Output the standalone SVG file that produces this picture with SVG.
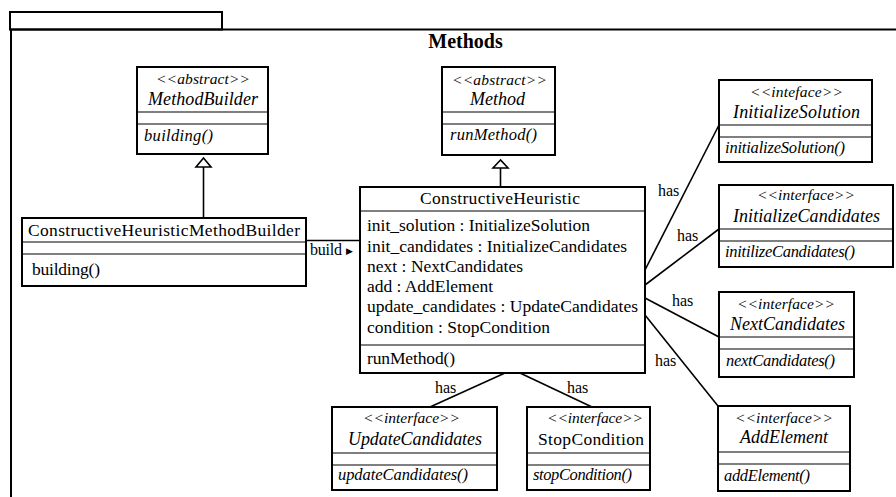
<svg xmlns="http://www.w3.org/2000/svg" width="896" height="497" viewBox="0 0 896 497">
  <style>
    .frame { fill: none; stroke: #000; stroke-width: 2; }
    .box { fill: #fff; stroke: #000; stroke-width: 2; }
    .div { stroke: #000; stroke-width: 1.2; }
    .ln { stroke: #000; stroke-width: 1.6; fill: none; }
    .tri { fill: #fff; stroke: #000; stroke-width: 1.6; }
    .t { font-size: 17.5px; }
    .st { font-size: 15.5px; font-style: italic; }
    .nm { font-size: 18px; font-style: italic; }
    .op { font-size: 16.5px; font-style: italic; }
    .lbl { font-size: 16px; }
    .title { font-size: 20px; font-weight: bold; }
    .sym { font-size: 9px; }
  </style>

  <!-- package frame -->
  <g id="package">
    <rect class="frame" x="10" y="12" width="212" height="17.5"/>
    <path class="frame" d="M11,497 V29.5 H896"/>
    <text class="title" font-family="Liberation Serif, Times New Roman, Noto Serif, DejaVu Serif, serif" x="465.5" y="48" text-anchor="middle">Methods</text>
  </g>

  <!-- all text below uses the serif stack -->
  <g font-family="Liberation Serif, Times New Roman, Noto Serif, DejaVu Serif, serif">

  <!-- connectors -->
  <g id="connectors">
    <!-- generalizations -->
    <line class="ln" x1="203.5" y1="167" x2="203.5" y2="218"/>
    <polygon class="tri" points="203.5,158 196,167 211,167"/>
    <line class="ln" x1="500.5" y1="168" x2="500.5" y2="187"/>
    <polygon class="tri" points="500.5,160 493,168 508,168"/>
    <!-- build association -->
    <line class="ln" x1="307" y1="240.5" x2="360" y2="240.5"/>
    <text class="lbl" x="310" y="255" textLength="32">build</text>
    <text class="sym" font-family="DejaVu Sans, sans-serif" x="346" y="254">▶</text>
    <!-- has associations -->
    <line class="ln" x1="645" y1="270" x2="719" y2="125"/>
    <text class="lbl" x="658" y="196">has</text>
    <line class="ln" x1="645" y1="285" x2="719" y2="229"/>
    <text class="lbl" x="677" y="241">has</text>
    <line class="ln" x1="645" y1="298" x2="719" y2="337"/>
    <text class="lbl" x="672" y="306">has</text>
    <line class="ln" x1="645" y1="315" x2="718" y2="406"/>
    <text class="lbl" x="655" y="366">has</text>
    <line class="ln" x1="505" y1="373" x2="430" y2="407"/>
    <text class="lbl" x="435" y="393">has</text>
    <line class="ln" x1="520" y1="373" x2="592" y2="407"/>
    <text class="lbl" x="567" y="393">has</text>
  </g>

  <g id="MethodBuilder">
    <rect class="box" x="137" y="67" width="131" height="87"/>
    <line class="div" x1="137" y1="112" x2="268" y2="112"/>
    <line class="div" x1="137" y1="124" x2="268" y2="124"/>
    <text class="st" x="156" y="84" textLength="94">&lt;&lt;abstract&gt;&gt;</text>
    <text class="nm" x="148" y="105" textLength="110">MethodBuilder</text>
    <text class="op" x="144" y="141" textLength="69">building()</text>
  </g>

  <g id="Method">
    <rect class="box" x="442" y="67" width="113" height="88"/>
    <line class="div" x1="442" y1="112" x2="555" y2="112"/>
    <line class="div" x1="442" y1="124" x2="555" y2="124"/>
    <text class="st" x="452" y="85" textLength="95">&lt;&lt;abstract&gt;&gt;</text>
    <text class="nm" x="470" y="105" textLength="55">Method</text>
    <text class="op" x="450" y="140" textLength="87">runMethod()</text>
  </g>

  <g id="ConstructiveHeuristicMethodBuilder">
    <rect class="box" x="22" y="218" width="284" height="68"/>
    <line class="div" x1="22" y1="242" x2="306" y2="242"/>
    <line class="div" x1="22" y1="254" x2="306" y2="254"/>
    <text class="t" x="28" y="236" textLength="272">ConstructiveHeuristicMethodBuilder</text>
    <text class="t" x="32" y="275" textLength="68">building()</text>
  </g>

  <g id="ConstructiveHeuristic">
    <rect class="box" x="360" y="187" width="285" height="186"/>
    <line class="div" x1="360" y1="211" x2="645" y2="211"/>
    <line class="div" x1="360" y1="345" x2="645" y2="345"/>
    <text class="t" x="420" y="204" textLength="160">ConstructiveHeuristic</text>
    <text class="t" x="367" y="231" textLength="223">init_solution : InitializeSolution</text>
    <text class="t" x="367" y="252" textLength="260">init_candidates : InitializeCandidates</text>
    <text class="t" x="367" y="272" textLength="156">next : NextCandidates</text>
    <text class="t" x="367" y="292" textLength="126">add : AddElement</text>
    <text class="t" x="367" y="312" textLength="271">update_candidates : UpdateCandidates</text>
    <text class="t" x="367" y="333" textLength="183">condition : StopCondition</text>
    <text class="t" x="367" y="364" textLength="88">runMethod()</text>
  </g>

  <g id="InitializeSolution">
    <rect class="box" x="719" y="80" width="153" height="82"/>
    <line class="div" x1="719" y1="125" x2="872" y2="125"/>
    <line class="div" x1="719" y1="137" x2="872" y2="137"/>
    <text class="st" x="750" y="97" textLength="93">&lt;&lt;inteface&gt;&gt;</text>
    <text class="nm" x="733" y="118" textLength="127">InitializeSolution</text>
    <text class="op" x="725" y="153" textLength="120">initializeSolution()</text>
  </g>

  <g id="InitializeCandidates">
    <rect class="box" x="719" y="185" width="174" height="82"/>
    <line class="div" x1="719" y1="229" x2="893" y2="229"/>
    <line class="div" x1="719" y1="241" x2="893" y2="241"/>
    <text class="st" x="757" y="200" textLength="98">&lt;&lt;interface&gt;&gt;</text>
    <text class="nm" x="733" y="222" textLength="147">InitializeCandidates</text>
    <text class="op" x="725" y="257" textLength="130">initilizeCandidates()</text>
  </g>

  <g id="NextCandidates">
    <rect class="box" x="719" y="292" width="135" height="85"/>
    <line class="div" x1="719" y1="337" x2="854" y2="337"/>
    <line class="div" x1="719" y1="349" x2="854" y2="349"/>
    <text class="st" x="737" y="309" textLength="98">&lt;&lt;interface&gt;&gt;</text>
    <text class="nm" x="730" y="330" textLength="115">NextCandidates</text>
    <text class="op" x="726" y="366" textLength="109">nextCandidates()</text>
  </g>

  <g id="AddElement">
    <rect class="box" x="718" y="406" width="132" height="85"/>
    <line class="div" x1="718" y1="452" x2="850" y2="452"/>
    <line class="div" x1="718" y1="464" x2="850" y2="464"/>
    <text class="st" x="735" y="423" textLength="98">&lt;&lt;interface&gt;&gt;</text>
    <text class="nm" x="740" y="443" textLength="88">AddElement</text>
    <text class="op" x="724" y="481" textLength="86">addElement()</text>
  </g>

  <g id="UpdateCandidates">
    <rect class="box" x="332" y="407" width="165" height="83"/>
    <line class="div" x1="332" y1="453" x2="497" y2="453"/>
    <line class="div" x1="332" y1="465" x2="497" y2="465"/>
    <text class="st" x="363" y="423" textLength="97">&lt;&lt;interface&gt;&gt;</text>
    <text class="nm" x="348" y="445" textLength="134">UpdateCandidates</text>
    <text class="op" x="338" y="480" textLength="130">updateCandidates()</text>
  </g>

  <g id="StopCondition">
    <rect class="box" x="527" y="407" width="123" height="83"/>
    <line class="div" x1="527" y1="453" x2="650" y2="453"/>
    <line class="div" x1="527" y1="465" x2="650" y2="465"/>
    <text class="st" x="547" y="423" textLength="96">&lt;&lt;interface&gt;&gt;</text>
    <text class="t" x="538" y="445" textLength="106">StopCondition</text>
    <text class="op" x="533" y="480" textLength="99">stopCondition()</text>
  </g>

  </g>
</svg>
